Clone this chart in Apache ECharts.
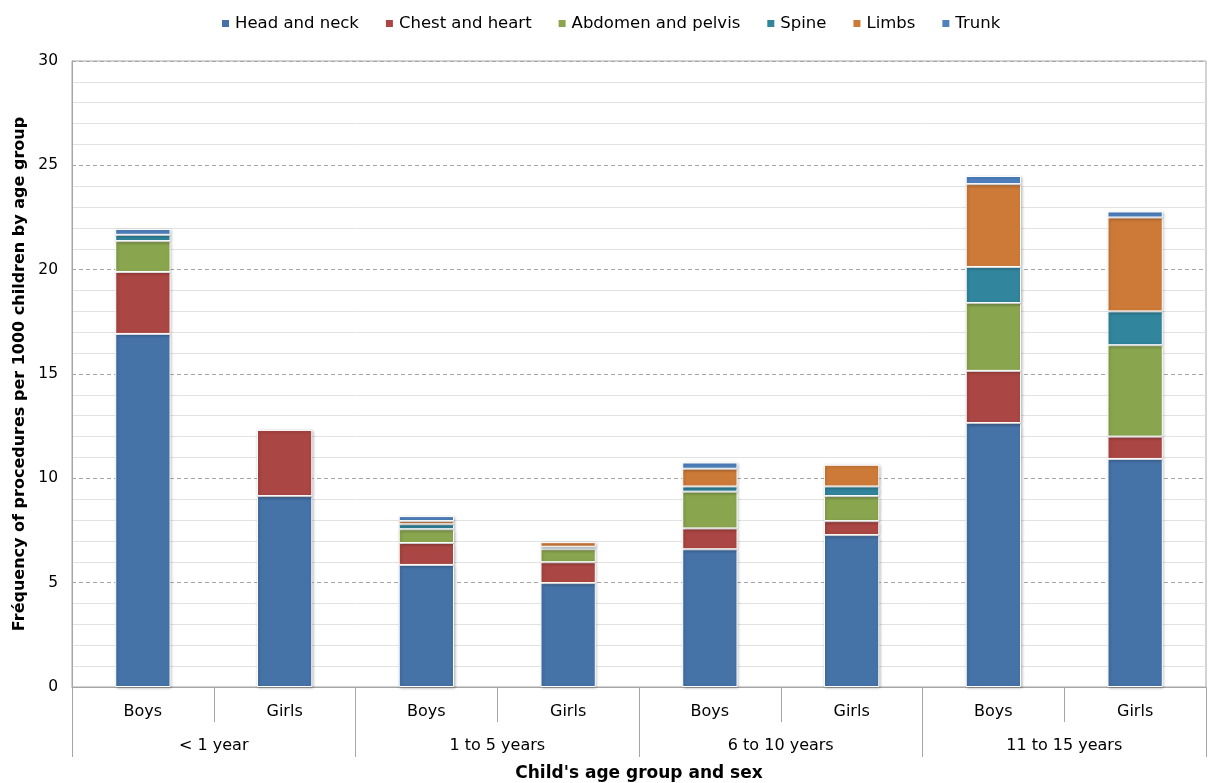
<!DOCTYPE html>
<html>
<head>
<meta charset="utf-8">
<script src="https://cdn.jsdelivr.net/npm/echarts@6/dist/echarts.min.js"></script>
<style>
  html, body { margin: 0; padding: 0; background: #fff; }
  #chart { width: 1208px; height: 783px; }
</style>
</head>
<body>
<div id="chart"></div>
<script>
// Bars: sex within each age group
const categories = ['Boys', 'Girls', 'Boys', 'Girls', 'Boys', 'Girls', 'Boys', 'Girls'];
const ageGroups = ['< 1 year', '1 to 5 years', '6 to 10 years', '11 to 15 years'];
const seriesNames = ['Head and neck', 'Chest and heart', 'Abdomen and pelvis', 'Spine', 'Limbs', 'Trunk'];

// Procedures per 1000 children, per body region
const headNeck    = [16.92, 9.15, 5.85, 4.98, 6.60, 7.28, 12.65, 10.93];
const chestHeart  = [2.97, 3.17, 1.05, 1.00, 1.00, 0.67, 2.50, 1.07];
const abdomen     = [1.48, 0, 0.66, 0.62, 1.76, 1.20, 3.25, 4.38];
const spine       = [0.30, 0, 0.24, 0.12, 0.25, 0.46, 1.73, 1.62];
const limbs       = [0, 0, 0.15, 0.22, 0.85, 1.04, 3.97, 4.50];
const trunk       = [0.28, 0, 0.24, 0, 0.30, 0, 0.39, 0.29];

const yTicks = [0, 5, 10, 15, 20, 25, 30];

const colors = ['#4572A7', '#AA4643', '#89A54E', '#31859C', '#CD7A38', '#4F81BD'];
const values = [headNeck, chestHeart, abdomen, spine, limbs, trunk];
const FONT = 'DejaVu Sans';

const chart = echarts.init(document.getElementById('chart'), null, { renderer: 'canvas' });

const series = seriesNames.map((name, i) => ({
  name,
  type: 'bar',
  stack: 'total',
  xAxisIndex: 0,
  barWidth: '39%',
  itemStyle: {
    color: colors[i],
    borderColor: '#ffffff',
    borderWidth: 1,
    shadowColor: 'rgba(0,0,0,0.25)',
    shadowBlur: 3,
    shadowOffsetX: 1,
    shadowOffsetY: 1
  },
  emphasis: { disabled: true },
  data: values[i].map(v => (v === 0 ? null : v))
}));

chart.setOption({
  animation: false,
  color: colors,
  textStyle: { fontFamily: FONT },
  legend: {
    top: 10,
    left: 215,
    icon: 'rect',
    itemWidth: 9,
    itemHeight: 9,
    itemGap: 25,
    textStyle: { fontFamily: FONT, fontSize: 16.5, color: '#000' },
    data: seriesNames
  },
  grid: {
    left: 72, right: 2, top: 61, bottom: 96,
    outerBoundsMode: 'none',
    containLabel: false,
    show: true, borderColor: '#a6a6a6', borderWidth: 1
  },
  xAxis: [
    {
      type: 'category',
      data: categories,
      position: 'bottom',
      axisLine: { show: true, lineStyle: { color: '#a6a6a6' } },
      axisTick: { show: true, interval: 0, length: 35, lineStyle: { color: '#a6a6a6' } },
      axisLabel: { interval: 0, margin: 17, fontFamily: FONT, fontSize: 16, color: '#000' }
    },
    {
      type: 'category',
      data: ageGroups,
      position: 'bottom',
      name: "Child's age group and sex",
      nameLocation: 'middle',
      nameGap: 78,
      nameTextStyle: { fontFamily: FONT, fontSize: 17, fontWeight: 'bold', color: '#000' },
      axisLine: { show: false },
      axisTick: { show: true, interval: 0, length: 70, lineStyle: { color: '#a6a6a6' } },
      axisLabel: { interval: 0, margin: 51, fontFamily: FONT, fontSize: 16, color: '#000' }
    }
  ],
  yAxis: {
    type: 'value',
    min: yTicks[0],
    max: yTicks[yTicks.length - 1],
    interval: 5,
    name: 'Fréquency of procedures per 1000 children by age group',
    nameLocation: 'middle',
    nameGap: 44,
    nameTextStyle: { fontFamily: FONT, fontSize: 16, fontWeight: 'bold', color: '#000' },
    axisLine: { show: true, lineStyle: { color: '#a6a6a6' } },
    axisTick: { show: false },
    axisLabel: { fontFamily: FONT, fontSize: 15.5, color: '#000', margin: 14 },
    splitLine: { show: true, lineStyle: { color: '#a6a6a6', type: [4, 3] } },
    minorTick: { show: false, splitNumber: 5 },
    minorSplitLine: { show: true, lineStyle: { color: '#e2e2e2', width: 1 } }
  },
  series
});
</script>
</body>
</html>
